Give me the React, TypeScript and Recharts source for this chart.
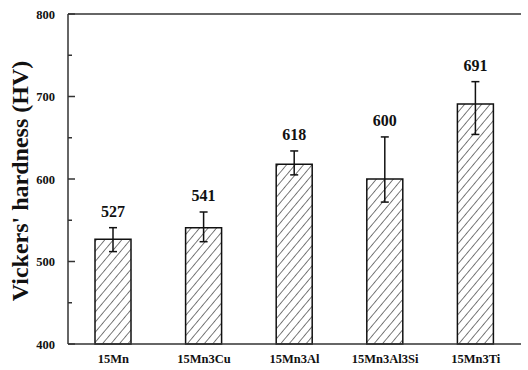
import { BarChart, Bar, XAxis, YAxis, ErrorBar, LabelList, ReferenceLine } from "recharts";

const alloys = ["15Mn", "15Mn3Cu", "15Mn3Al", "15Mn3Al3Si", "15Mn3Ti"];
const hardness = [527, 541, 618, 600, 691];
const errLow = [15, 17, 13, 28, 37];
const errHigh = [14, 19, 16, 51, 27];
const yTicks = [400, 450, 500, 550, 600, 650, 700, 750, 800];

const data = alloys.map((name, i) => ({
  name,
  hv: hardness[i],
  err: [errLow[i], errHigh[i]],
}));

const font = "'Liberation Serif', 'Times New Roman', serif";
const axisColor = "#333";

// inward ticks, labels only on the hundreds
function YTick(props: any) {
  const { x, y, payload } = props;
  const major = payload.value % 100 === 0;
  const ax = x + 13;
  return (
    <g>
      <path d={`M${ax},${y}H${ax + (major ? 7 : 4)}`} stroke={axisColor} strokeWidth={1.5} fill="none" />
      {major && (
        <text x={x} y={y} dy={4.5} textAnchor="end" fontFamily={font} fontWeight="bold" fontSize={12.5} fill="#111">
          {payload.value}
        </text>
      )}
    </g>
  );
}

// value sits above the top of the error bar
function ValueLabel(props: any) {
  const { x, y, width, height, value, index } = props;
  const pxPerUnit = height / (value - 400);
  const top = y - errHigh[index] * pxPerUnit;
  return (
    <text x={x + width / 2} y={top - 11} textAnchor="middle" fontFamily={font} fontWeight="bold" fontSize={16} fill="#111">
      {value}
    </text>
  );
}

function YLabel(props: any) {
  const vb = props.viewBox;
  const cy = vb.y + vb.height / 2 + 2;
  return (
    <text
      x={28}
      y={cy}
      transform={`rotate(-90, 28, ${cy})`}
      textAnchor="middle"
      fontFamily={font}
      fontWeight="bold"
      fontSize={24}
      fill="#111"
    >
      Vickers' hardness (HV)
    </text>
  );
}

export default function App() {
  return (
    <div style={{ position: "fixed", left: 0, top: 0, background: "#fff" }}>
      <BarChart width={528} height={370} data={data} margin={{ top: 14, right: 7, left: 0, bottom: 0 }}>
        <defs>
          <pattern id="hatch" patternUnits="userSpaceOnUse" width={6.5} height={6.5} patternTransform="rotate(40)">
            <rect width={6.5} height={6.5} fill="#fff" />
            <line x1={0} y1={0} x2={0} y2={6.5} stroke="#222" strokeWidth={1.2} />
          </pattern>
        </defs>
        <XAxis
          dataKey="name"
          height={26}
          tickLine={false}
          axisLine={{ stroke: axisColor, strokeWidth: 1.5 }}
          tick={{ fontFamily: font, fontWeight: "bold", fontSize: 12.5, fill: "#111" }}
          tickMargin={4}
        />
        <YAxis
          width={68}
          domain={[400, 800]}
          ticks={yTicks}
          interval={0}
          tickSize={0}
          tickMargin={13}
          axisLine={{ stroke: axisColor, strokeWidth: 1.5 }}
          tick={<YTick />}
          label={<YLabel />}
        />
        <YAxis
          yAxisId="frame"
          orientation="right"
          width={0}
          domain={[400, 800]}
          tick={false}
          tickLine={false}
          axisLine={{ stroke: axisColor, strokeWidth: 1.5 }}
        />
        <ReferenceLine y={800} stroke={axisColor} strokeWidth={1.5} />
        <Bar dataKey="hv" barSize={36} fill="url(#hatch)" stroke="#111" strokeWidth={1.5} isAnimationActive={false}>
          <ErrorBar dataKey="err" width={4} stroke="#111" strokeWidth={1.5} />
          <LabelList dataKey="hv" content={<ValueLabel />} />
        </Bar>
      </BarChart>
    </div>
  );
}
